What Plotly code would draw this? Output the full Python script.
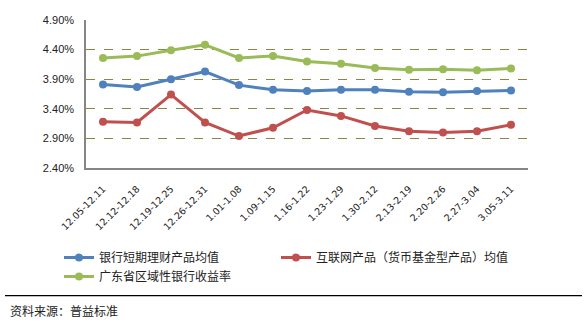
import plotly.graph_objects as go

# Weekly periods
weeks = ["12.05-12.11", "12.12-12.18", "12.19-12.25", "12.26-12.31", "1.01-1.08",
         "1.09-1.15", "1.16-1.22", "1.23-1.29", "1.30-2.12", "2.13-2.19",
         "2.20-2.26", "2.27-3.04", "3.05-3.11"]

# Average yields (%)
bank_short_term = [3.81, 3.77, 3.90, 4.03, 3.80, 3.72, 3.70, 3.72, 3.72, 3.69, 3.68, 3.70, 3.71]
internet_mmf = [3.18, 3.17, 3.64, 3.17, 2.94, 3.08, 3.38, 3.28, 3.11, 3.02, 3.00, 3.02, 3.13]
guangdong_regional = [4.26, 4.29, 4.39, 4.48, 4.26, 4.29, 4.20, 4.16, 4.09, 4.06, 4.07, 4.05, 4.08]

y_ticks = [2.40, 2.90, 3.40, 3.90, 4.40, 4.90]
y_tick_text = [f"{v:.2f}%" for v in y_ticks]

# name, values, colour, legend group box
series = [
    ("银行短期理财产品均值", bank_short_term, "#4F81BD", "legend"),
    ("互联网产品（货币基金型产品）均值", internet_mmf, "#C0504D", "legend2"),
    ("广东省区域性银行收益率", guangdong_regional, "#9BBB59", "legend"),
]

W, H = 586, 322
ML, MR, MT, MB = 86, 58, 20, 154
PW = W - ML - MR
PH = H - MT - MB

def px_x(px):
    return (px - ML) / PW

def px_y(py):
    return (H - MB - py) / PH

def cont_x(px):
    return px / W

def cont_y(py):
    return 1 - py / H

fig = go.Figure()
for name, vals, color, lg in series:
    fig.add_trace(go.Scatter(
        x=weeks, y=vals, name=name, mode="lines+markers",
        line=dict(color=color, width=3),
        marker=dict(color=color, size=8),
        legend=lg,
    ))

cjk = "Noto Sans CJK SC"
legend_style = dict(
    orientation="v", xref="container", yref="container",
    xanchor="left", yanchor="top",
    font=dict(family=cjk, size=12, color="#222222"),
    itemwidth=30, tracegroupgap=0, bgcolor="rgba(0,0,0,0)",
)

fig.update_layout(
    width=W, height=H,
    margin=dict(l=ML, r=MR, t=MT, b=MB, autoexpand=False),
    paper_bgcolor="white", plot_bgcolor="white",
    font=dict(family="Liberation Sans, Arial", color="#222222"),
    xaxis=dict(
        type="category", tickangle=-45,
        tickfont=dict(family="DejaVu Sans", size=9.5),
        ticklabelstandoff=10, automargin=False,
        showgrid=False, showline=True, linecolor="#868686", linewidth=1.5,
        ticks="", range=[-0.5, len(weeks) - 0.5],
    ),
    yaxis=dict(
        range=[2.40, 4.90], tickvals=y_ticks, ticktext=y_tick_text,
        tickfont=dict(size=11), ticklabelstandoff=8, automargin=False,
        showline=True, linecolor="#868686", linewidth=1.5,
        showgrid=True, gridcolor="#8C8444", griddash="dash", gridwidth=1,
        zeroline=False, ticks="",
    ),
    legend=dict(x=cont_x(59), y=cont_y(243), **legend_style),
    legend2=dict(x=cont_x(276), y=cont_y(243), **legend_style),
    showlegend=True,
)

# Source note and divider
fig.add_shape(type="line", xref="paper", yref="paper",
              x0=px_x(5), x1=px_x(582), y0=px_y(295.7), y1=px_y(295.7),
              line=dict(color="black", width=1.2))
fig.add_annotation(text="资料来源：普益标准", xref="paper", yref="paper",
                   x=px_x(8), y=px_y(310), xanchor="left", yanchor="middle",
                   showarrow=False, font=dict(family=cjk, size=12, color="#222222"))

fig.write_html("out.html")
